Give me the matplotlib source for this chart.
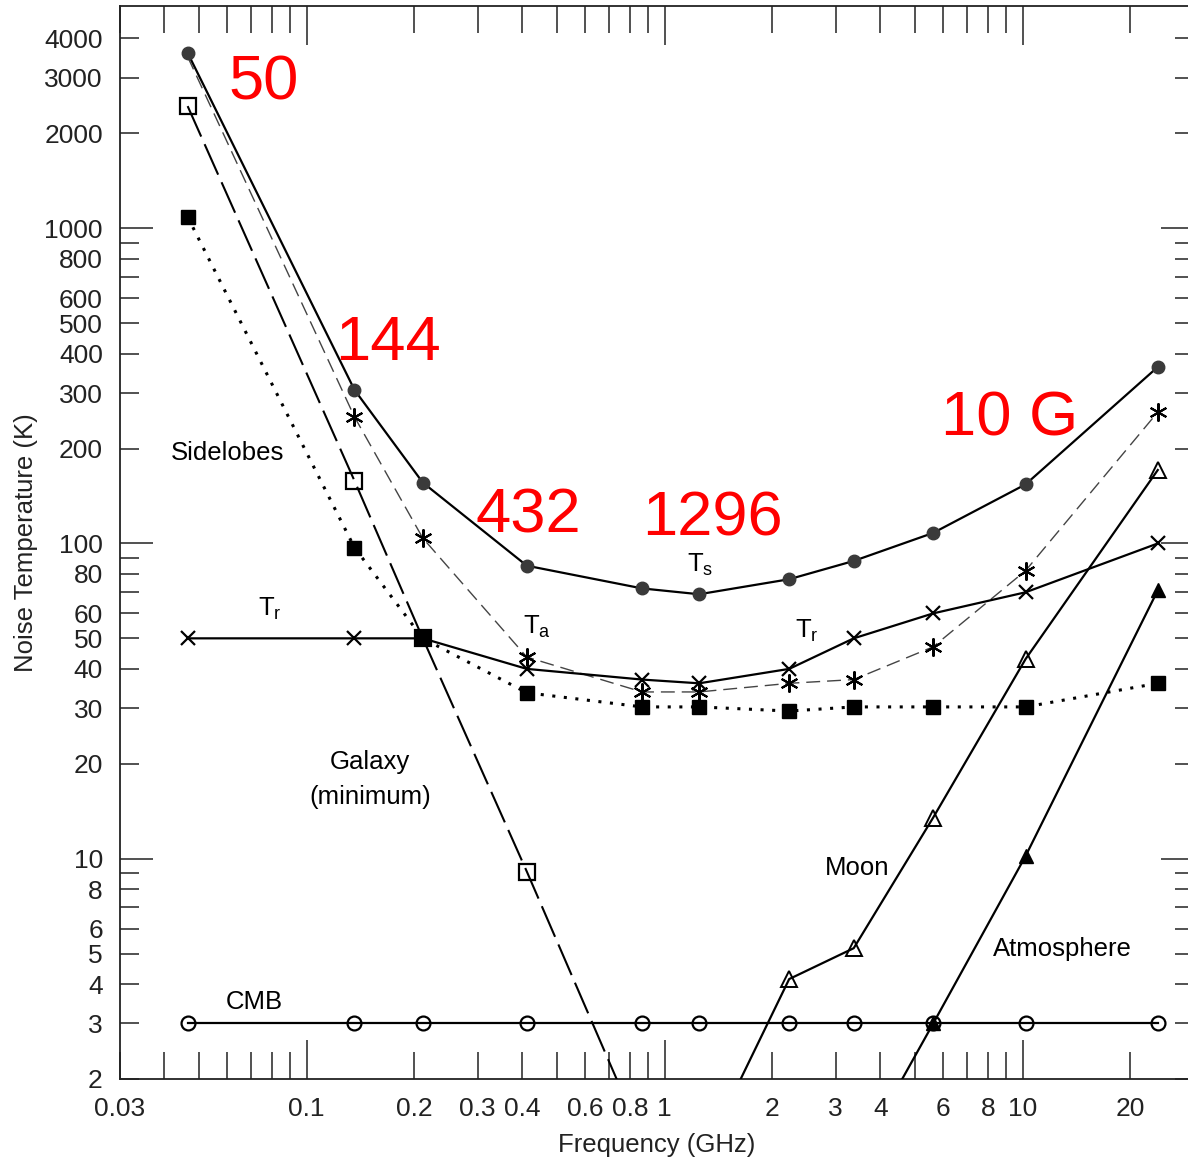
import matplotlib
matplotlib.use('Agg')
import matplotlib.pyplot as plt
from matplotlib.ticker import FixedLocator, FuncFormatter

plt.rcParams['font.family'] = ['Liberation Sans', 'DejaVu Sans']
plt.rcParams['mathtext.fontset'] = 'custom'
plt.rcParams['mathtext.rm'] = 'Liberation Sans'

# band frequencies (GHz)
freq = [0.0465, 0.136, 0.211, 0.412, 0.865, 1.248, 2.227, 3.373, 5.623, 10.19, 23.84]

t_sys = [3600, 307, 156, 85, 72, 69, 77, 88, 108, 154, 363]
t_ant = [3500, 252, 104, 43.6, 33.8, 33.8, 36, 37, 47, 82, 261]
t_rx = [50, 50, 50, 40, 37, 36, 40, 50, 60, 70, 100]
sky = [1086, 97, 50, 33.6, 30.3, 30.3, 29.4, 30.3, 30.3, 30.3, 36]
cmb = [3, 3, 3, 3, 3, 3, 3, 3, 3, 3, 3]

gal_freq = [0.0465, 0.136, 0.211, 0.412, 0.865]
galaxy = [2440, 158, 50, 9.1, 1.3]

moon_freq = [1.248, 2.227, 3.373, 5.623, 10.19, 23.84]
moon = [1.07, 4.15, 5.2, 13.5, 43, 171]

atm_freq = [3.373, 5.623, 10.19, 23.84]
atmosphere = [1.06, 3.0, 10.2, 71]

x_labels = [0.03, 0.1, 0.2, 0.3, 0.4, 0.6, 0.8, 1, 2, 3, 4, 6, 8, 10, 20]
y_labels = [2, 3, 4, 5, 6, 8, 10, 20, 30, 40, 50, 60, 80, 100, 200, 300,
            400, 500, 600, 800, 1000, 2000, 3000, 4000]

W, H = 1188, 1159
fig = plt.figure(figsize=(W / 100, H / 100), dpi=100)


def px(x, y):
    return x / W, 1 - y / H


left, right, top, bottom = 119.5, 1193.5, 6, 1079
ax = fig.add_axes([left / W, 1 - bottom / H, (right - left) / W, (bottom - top) / H])
ax.set_xscale('log')
ax.set_yscale('log')
ax.set_xlim(0.03, 30)
ax.set_ylim(2, 5070)

k = 'black'
ax.plot(freq, t_sys, '-', color=k, lw=1.6, marker='o', ms=9, mfc='#3a3a3a', mec='#3a3a3a', zorder=5)
ax.plot(freq, t_ant, color='#444444', lw=1.0, dashes=(10, 5), marker=(6, 2, 0), ms=13,
        mec=k, mew=1.5, markevery=list(range(1, len(freq))), zorder=4)
ax.plot(freq, t_rx, '-', color=k, lw=1.6, marker='x', ms=10, mew=1.6, zorder=4)
ax.plot(freq, sky, color=k, lw=2.2, dashes=(1, 2.8), marker='s', ms=10, mfc=k, mec=k, zorder=3)
ax.plot(gal_freq, galaxy, color=k, lw=1.5, dashes=(16, 4), marker='s', ms=12, mfc='none',
        mec=k, mew=1.6, zorder=3)
ax.plot(freq, cmb, '-', color=k, lw=1.6, marker='o', ms=10, mfc='none', mec=k, mew=1.6, zorder=3)
ax.plot(moon_freq, moon, '-', color=k, lw=1.6, marker='^', ms=11, mfc='none', mec=k, mew=1.4, zorder=3)
ax.plot(atm_freq, atmosphere, '-', color=k, lw=1.6, marker='^', ms=10, mfc=k, mec=k, zorder=3)

# ticks
ax.xaxis.set_major_locator(FixedLocator([0.1, 1, 10]))
xminor = [m * d for d in (0.01, 0.1, 1, 10) for m in range(2, 10) if 0.03 <= m * d <= 30]
ax.xaxis.set_minor_locator(FixedLocator(xminor))
ax.yaxis.set_major_locator(FixedLocator([10, 100, 1000]))
yminor = [m * d for d in (1, 10, 100, 1000) for m in range(2, 10) if 2 <= m * d < 5000]
ax.yaxis.set_minor_locator(FixedLocator(yminor))


def fmt(labels):
    def f(v, pos):
        for l in labels:
            if abs(v - l) / l < 1e-6:
                return '%g' % l
        return ''
    return FuncFormatter(f)


ax.xaxis.set_major_formatter(fmt(x_labels))
ax.xaxis.set_minor_formatter(fmt(x_labels))
ax.yaxis.set_major_formatter(fmt(y_labels))
ax.yaxis.set_minor_formatter(fmt(y_labels))

tfs = 19
ax.tick_params(axis='x', which='major', direction='in', length=28, width=1.1, top=True,
               labelsize=tfs, pad=13, color='#222222', labelcolor='#222222')
ax.tick_params(axis='x', which='minor', direction='in', length=19.5, width=1.1, top=True,
               labelsize=tfs, pad=13, color='#222222', labelcolor='#222222')
ax.tick_params(axis='y', which='major', direction='in', length=23.5, width=1.1, right=True,
               labelsize=tfs, pad=12, color='#222222', labelcolor='#222222')
ax.tick_params(axis='y', which='minor', direction='in', length=13.8, width=1.1, right=True,
               labelsize=tfs, pad=12, color='#222222', labelcolor='#222222')
for s in ax.spines.values():
    s.set_linewidth(1.3)
    s.set_color('#222222')

fs = 18.5
fig.text(*px(657, 1152), 'Frequency (GHz)', ha='center', va='baseline', fontsize=fs, color='#222222')
fig.text(*px(26, 543), 'Noise Temperature (K)', ha='center', va='center', rotation=90,
         fontsize=fs, color='#222222')

# curve labels
fig.text(*px(228, 460), 'Sidelobes', ha='center', va='baseline', fontsize=fs)
fig.text(*px(270, 616), r'T$_\mathregular{r}$', ha='center', va='baseline', fontsize=fs)
fig.text(*px(537, 634), r'T$_\mathregular{a}$', ha='center', va='baseline', fontsize=fs)
fig.text(*px(700, 571), r'T$_\mathregular{s}$', ha='center', va='baseline', fontsize=fs)
fig.text(*px(807, 638), r'T$_\mathregular{r}$', ha='center', va='baseline', fontsize=fs)
fig.text(*px(370, 769), 'Galaxy', ha='center', va='baseline', fontsize=fs)
fig.text(*px(370, 804), '(minimum)', ha='center', va='baseline', fontsize=fs)
fig.text(*px(857, 875), 'Moon', ha='center', va='baseline', fontsize=fs)
fig.text(*px(1062, 956), 'Atmosphere', ha='center', va='baseline', fontsize=fs)
fig.text(*px(254, 1009), 'CMB', ha='center', va='baseline', fontsize=fs)

# red band annotations
red = dict(color='#ff0000', fontsize=45.5, ha='center', va='baseline')
fig.text(*px(264, 99), '50', **red)
fig.text(*px(388, 360), '144', **red)
fig.text(*px(528, 532), '432', **red)
fig.text(*px(712, 536), '1296', **red)
fig.text(*px(1010, 435), '10 G', **red)

fig.savefig('out.png', dpi=100)
